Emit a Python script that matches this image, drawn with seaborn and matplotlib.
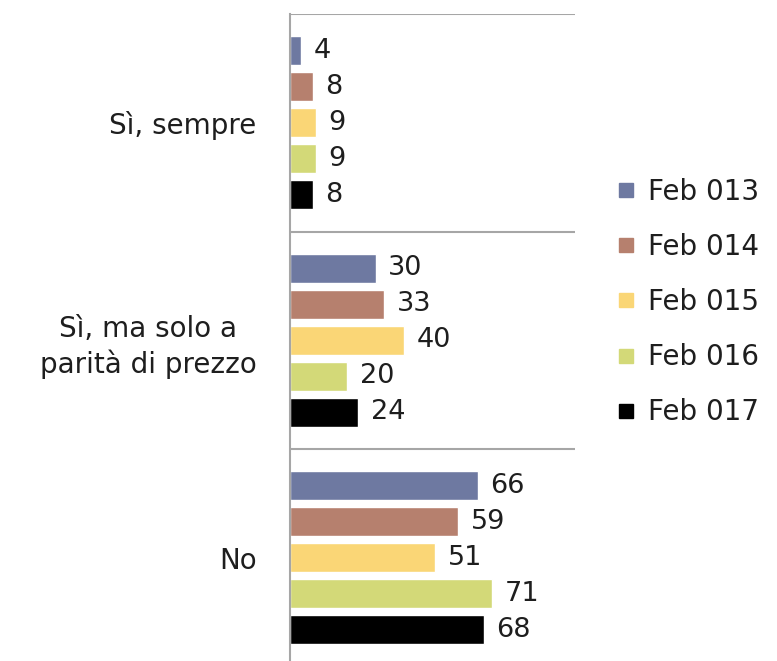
import matplotlib
matplotlib.use("Agg")
import matplotlib.pyplot as plt
import seaborn as sns
import pandas as pd
from matplotlib.lines import Line2D

categories = ["Sì, sempre", "Sì, ma solo a\nparità di prezzo", "No"]
series = ["Feb 013", "Feb 014", "Feb 015", "Feb 016", "Feb 017"]
values = {
    "Feb 013": [4, 30, 66],
    "Feb 014": [8, 33, 59],
    "Feb 015": [9, 40, 51],
    "Feb 016": [9, 20, 71],
    "Feb 017": [8, 24, 68],
}
colors = ["#6E79A1", "#B6806E", "#FAD676", "#D3D978", "#000000"]

rows = []
for s in series:
    for c, v in zip(categories, values[s]):
        rows.append({"cat": c, "series": s, "val": v})
df = pd.DataFrame(rows)

sns.set_style("white")
plt.rcParams["font.family"] = ["DejaVu Sans"]

fig = plt.figure(figsize=(7.77, 6.61), dpi=100)
ax = fig.add_axes([290 / 777, -5.5 / 661, 285 / 777, (661 - 14 + 5.5) / 661])

sns.barplot(data=df, y="cat", x="val", hue="series", order=categories,
            hue_order=series, palette=colors, orient="h", width=0.828,
            gap=0.2, ax=ax, legend=False, saturation=1)

for cont in ax.containers:
    ax.bar_label(cont, padding=9, fontsize=19.5, color="#1e1e1e")

ax.set_xlim(0, 100)
ax.set_ylim(2.5, -0.5)
for yb in [-0.5, 0.5, 1.5]:
    ax.axhline(yb, xmin=0, xmax=1, color="#A6A6A6", lw=1.5, zorder=0)

for sp in ["top", "right", "bottom"]:
    ax.spines[sp].set_visible(False)
ax.spines["left"].set_color("#A6A6A6")
ax.spines["left"].set_linewidth(1.5)
ax.set_xticks([])
ax.set_xlabel("")
ax.set_ylabel("")
ax.tick_params(axis="y", length=0, pad=24, labelsize=20, labelcolor="#1e1e1e")
for t in ax.get_yticklabels():
    t.set_multialignment("center")
    t.set_linespacing(1.3)

handles = [Line2D([0], [0], marker="s", linestyle="", markersize=10,
                  markerfacecolor=c, markeredgecolor=c) for c in colors]
fig.legend(handles, series, loc="center left", bbox_to_anchor=(587 / 777, 1 - 302 / 661),
           frameon=False, fontsize=20, labelspacing=0.98, handletextpad=0.3,
           handlelength=1.0, labelcolor="#1e1e1e")

fig.savefig("out.png", dpi=100)
